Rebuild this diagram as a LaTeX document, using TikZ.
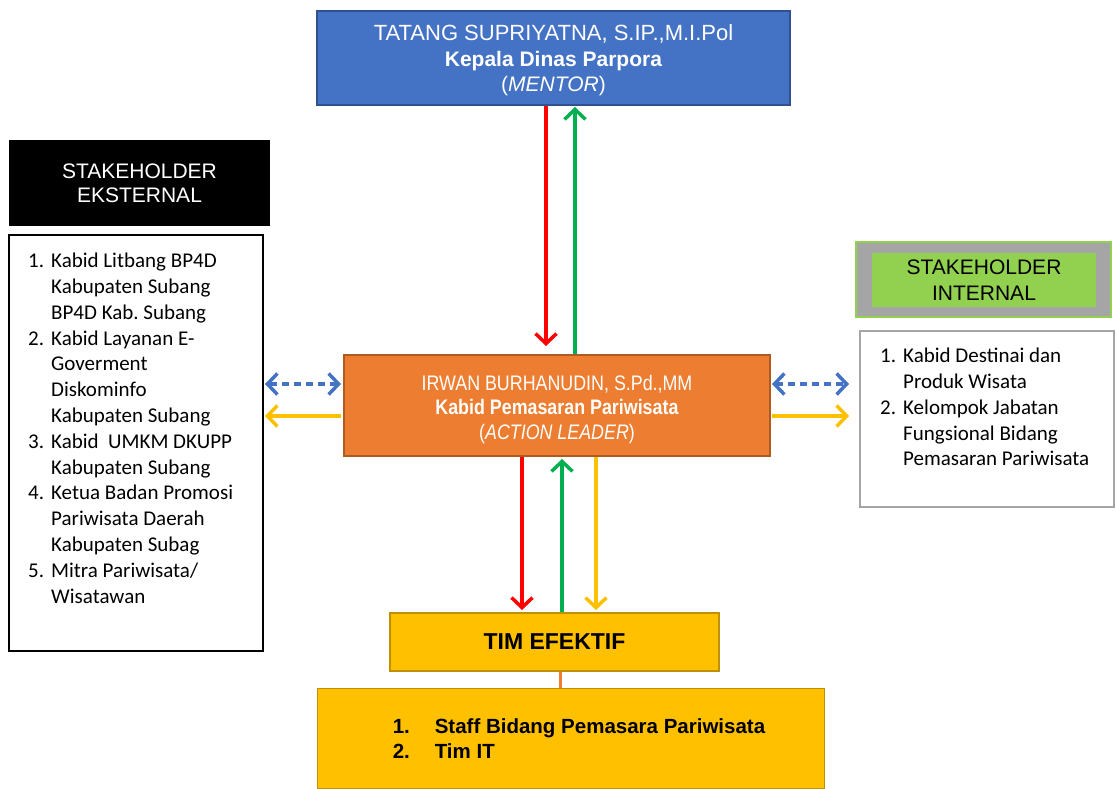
\documentclass[tikz,border=0pt]{standalone}
\usepackage{fontspec}
\setmainfont{Liberation Sans}
\newfontfamily\calfont{Carlito}
\newfontfamily\narrowfont[FakeStretch=0.85]{Liberation Sans}
\usetikzlibrary{arrows.meta}
\definecolor{mentorblue}{HTML}{4472C4}
\definecolor{mentorline}{HTML}{2F528F}
\definecolor{leaderorange}{HTML}{ED7D31}
\definecolor{leaderline}{HTML}{AE5A21}
\definecolor{timgold}{HTML}{FFC000}
\definecolor{timline}{HTML}{BF9000}
\definecolor{intgreen}{HTML}{92D050}
\definecolor{intgray}{HTML}{A5A5A5}
\definecolor{arrred}{HTML}{FF0000}
\definecolor{arrgreen}{HTML}{00B050}
\frenchspacing

\begin{document}
\begin{tikzpicture}[x=1pt, y=-1pt, >={Straight Barb[length=10pt,width=21pt]},
    box/.style={draw, line width=2pt, inner sep=0pt, align=center},
    flow/.style={->, line width=3.5pt},
    listtext/.style={font=\calfont\fontsize{21}{25.8}\selectfont, align=left, inner sep=0pt, anchor=north west}]
  \useasboundingbox (0,0) rectangle (1116,789);
  % main chain
  \node[box, fill=mentorblue, draw=mentorline, text=white, minimum width=473pt, minimum height=94pt,
    font=\fontsize{21}{25.5}\selectfont]
    (mentor) at (553.5,58) {\rule{0pt}{21pt}{\fontsize{22}{25.5}\selectfont TATANG SUPRIYATNA, S.IP.,M.I.Pol}\\
      \textbf{Kepala Dinas Parpora}\\(\textit{MENTOR})};
  \node[box, fill=leaderorange, draw=leaderline, text=white, minimum width=426pt, minimum height=101pt,
    font=\narrowfont\fontsize{21}{24.5}\selectfont]
    (leader) at (557,405.5) {\rule{0pt}{23pt}IRWAN BURHANUDIN, S.Pd.,MM\\
      \textbf{Kabid Pemasaran Pariwisata}\\(\textit{ACTION LEADER})};
  \node[box, fill=timgold, draw=timline, minimum width=329pt, minimum height=58pt,
    font=\bfseries\fontsize{23}{27}\selectfont]
    (tim) at (554.5,642) {TIM EFEKTIF};
  \node[box, fill=timgold, draw=timline, line width=1.5pt, minimum width=507pt, minimum height=100pt,
    align=left, font=\bfseries\fontsize{20.5}{25}\selectfont]
    (team) at (571,738.5) {\hspace*{16pt}\makebox[42pt][l]{1.}Staff Bidang Pemasara Pariwisata\\
      \hspace*{16pt}\makebox[42pt][l]{2.}Tim IT};
  \draw[leaderorange, line width=3pt] ([xshift=5.5pt]tim.south) -- ([xshift=5.5pt]tim.south |- team.north);

  % external stakeholders
  \node[box, fill=black, text=white, minimum width=259pt, minimum height=84pt,
    font=\fontsize{21}{24}\selectfont]
    (eksthead) at (139.5,183) {STAKEHOLDER\\EKSTERNAL};
  \node[box, draw=black, minimum width=254pt, minimum height=416pt] (ekst) at (136,443) {};
  \node[listtext] (ekstlist) at (28,253)
    {\makebox[23pt][l]{1.}Kabid Litbang BP4D\\
     \hspace*{23pt}Kabupaten Subang\\
     \hspace*{23pt}BP4D Kab. Subang\\
     \makebox[23pt][l]{2.}Kabid Layanan E-\\
     \hspace*{23pt}Goverment\\
     \hspace*{23pt}Diskominfo\\
     \hspace*{23pt}Kabupaten Subang\\
     \makebox[23pt][l]{3.}Kabid\ \ UMKM DKUPP\\
     \hspace*{23pt}Kabupaten Subang\\
     \makebox[23pt][l]{4.}Ketua Badan Promosi\\
     \hspace*{23pt}Pariwisata Daerah\\
     \hspace*{23pt}Kabupaten Subag\\
     \makebox[23pt][l]{5.}Mitra Pariwisata/\\
     \hspace*{23pt}Wisatawan};

  % internal stakeholders
  \node[box, fill=intgray, draw=intgreen, line width=2.5pt, minimum width=255pt, minimum height=75pt]
    (inthead) at (983.5,279.5) {};
  \node[box, fill=intgreen, draw=none, minimum width=224pt, minimum height=54pt,
    font=\fontsize{21}{26}\selectfont]
    (intlabel) at (984,280) {STAKEHOLDER\\INTERNAL};
  \node[box, draw=intgray, minimum width=254pt, minimum height=176pt] (intern) at (987,419) {};
  \node[listtext] (internlist) at (880,348)
    {\makebox[23pt][l]{1.}Kabid Destinai dan\\
     \hspace*{23pt}Produk Wisata\\
     \makebox[23pt][l]{2.}Kelompok Jabatan\\
     \hspace*{23pt}Fungsional Bidang\\
     \hspace*{23pt}Pemasaran Pariwisata};

  % mentor <-> leader
  \draw[flow, arrred, shorten >=8pt] ([xshift=-7.5pt]mentor.south) -- ([xshift=-7.5pt]mentor.south |- leader.north);
  \draw[flow, arrgreen, shorten >=1pt] ([xshift=18pt]leader.north) -- ([xshift=18pt]leader.north |- mentor.south);
  % leader <-> tim efektif
  \draw[flow, arrred, shorten >=2pt] ([xshift=-35pt]leader.south) -- ([xshift=-35pt]leader.south |- tim.north);
  \draw[flow, arrgreen, shorten >=2pt] ([xshift=7.5pt]tim.north) -- ([xshift=7.5pt]tim.north |- leader.south);
  \draw[flow, timgold, shorten >=2pt] ([xshift=39pt]leader.south) -- ([xshift=39pt]leader.south |- tim.north);
  % leader <-> stakeholders (dashed: two way)
  \draw[flow, <->, mentorblue, dash pattern=on 7pt off 5pt, shorten <=2pt, shorten >=1pt]
    ([yshift=21.5pt]leader.west) -- ([yshift=21.5pt]leader.west -| ekst.east);
  \draw[flow, timgold, shorten <=2pt, shorten >=1pt]
    ([yshift=-10.5pt]leader.west) -- ([yshift=-10.5pt]leader.west -| ekst.east);
  \draw[flow, <->, mentorblue, dash pattern=on 7pt off 5pt, shorten <=1pt, shorten >=10pt]
    ([yshift=21.5pt]leader.east) -- ([yshift=21.5pt]leader.east -| intern.west);
  \draw[flow, timgold, shorten <=1pt, shorten >=10pt]
    ([yshift=-10.5pt]leader.east) -- ([yshift=-10.5pt]leader.east -| intern.west);
\end{tikzpicture}
\end{document}
